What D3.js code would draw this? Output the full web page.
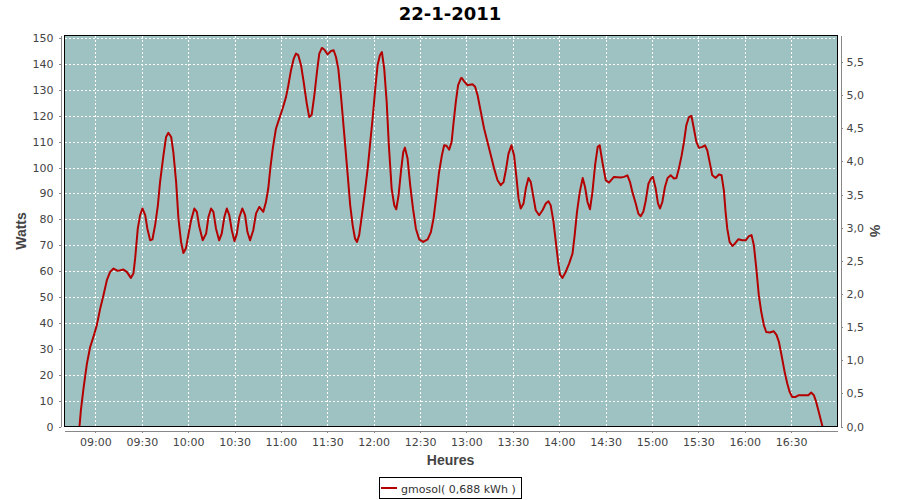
<!DOCTYPE html>
<html><head><meta charset="utf-8">
<script src="https://cdn.jsdelivr.net/npm/d3@7"></script>
<style>body{margin:0;background:#fff}svg{display:block}</style>
</head><body>
<svg id="chart" width="900" height="500"></svg>
<script>
// ---- data ----
const chartTitle = "22-1-2011";
const seriesName = "gmosol";
const energyLabel = "0,688 kWh";
const yLabelLeft = "Watts", yLabelRight = "%", xLabel = "Heures";
const timeRange = ["08:40", "17:00"];
const wattsRange = [0, 151];
const pctRange = [0, 5.9];
const wattsTicks = [0,10,20,30,40,50,60,70,80,90,100,110,120,130,140,150];
const pctTicks = [0,0.5,1,1.5,2,2.5,3,3.5,4,4.5,5,5.5];
const timeTicks = ["09:00","09:30","10:00","10:30","11:00","11:30","12:00","12:30","13:00","13:30","14:00","14:30","15:00","15:30","16:00","16:30"];
// time of each sample in minutes after midnight
const minutes = [529.7,530.6,532.3,534.5,536.6,538.7,540.9,543.1,545.2,547.4,549.5,551.7,554.5,558.1,560.3,562.9,564.6,565.7,567.4,568.9,570.4,572.2,573.6,575.4,576.9,578.6,580.4,581.8,584.0,585.7,587.2,589.0,590.4,592.2,593.7,595.4,596.9,598.5,600.1,601.9,604.0,605.6,607.2,609.4,611.6,613.1,614.8,616.3,618.0,620.0,621.7,623.4,625.0,626.6,628.2,629.9,631.4,633.1,635.0,636.8,638.3,640.0,642.1,643.9,646.0,648.6,
650.3,651.8,653.1,654.7,656.8,658.9,661.1,663.3,664.8,666.5,668.3,669.7,671.2,673.0,674.7,676.7,678.3,679.9,681.6,683.3,684.8,686.5,688.0,690.2,692.4,694.1,695.6,697.1,698.8,701.0,703.2,704.8,706.4,707.9,709.2,710.6,712.4,714.3,716.1,717.8,719.5,721.0,722.5,724.0,725.3,726.8,728.4,729.8,731.6,733.3,734.6,736.1,737.6,739.1,740.2,741.9,743.6,745.4,747.3,749.4,752.0,754.9,757.0,758.7,760.7,762.3,764.1,765.6,767.1,768.8,770.4,771.7,773.1,774.6,776.4,
777.0,778.5,780.7,783.9,785.6,787.2,789.3,791.4,793.6,795.8,797.9,800.1,802.2,804.0,805.5,807.2,809.1,810.8,812.4,813.7,815.1,816.9,818.4,820.1,821.6,823.3,824.8,827.0,829.2,831.3,833.0,834.5,836.3,837.8,839.3,840.5,842.1,844.2,846.4,848.6,850.0,851.5,853.3,855.2,856.7,858.3,859.9,861.5,863.2,864.9,866.2,867.9,870.1,872.2,875.4,879.8,881.9,884.1,885.8,887.3,889.5,891.2,892.7,894.4,895.9,897.7,899.4,900.6,
902.4,903.9,905.2,906.7,908.4,910.1,912.1,914.2,915.8,917.4,919.2,920.7,922.2,923.9,925.5,927.1,928.7,930.4,932.6,934.3,935.8,937.5,939.0,941.2,943.3,945.0,946.5,947.6,948.7,950.2,952.0,953.6,955.8,958.4,960.6,962.7,964.4,965.9,967.5,969.1,970.7,972.4,973.9,976.1,978.8,980.6,982.1,983.8,985.8,987.5,989.0,990.7,992.9,995.0,998.2,1001.1,1003.0,1004.7,1006.2,1007.9,1009.5,1010.3];
const watts = [0,6.3,14.7,24.3,30.7,34.6,39.1,45.6,50.7,56.5,59.7,61,60.1,60.6,59.7,57.4,59.1,64.9,76.4,81.6,84.2,81.6,76.4,71.9,72.3,77.7,85.4,94.4,104.7,111.8,113.4,111.8,106,94.4,80.3,71.3,67,68.7,73.9,79.7,84.2,82.9,77.1,71.9,74.5,80.9,84.2,82.9,76.4,71.9,74.5,80.9,84.2,81.6,75.8,71.6,74.2,80.9,84.2,81.6,75.2,71.9,75.8,82.3,84.8,82.9,
86.7,91.9,99.6,107.3,115.1,118.9,122.8,127.3,131.8,137.6,142.1,144,143.4,139.5,133.1,124.7,119.5,120.4,127.9,136.9,144,146.2,145.6,143.7,145,145.3,142.7,138.2,127.9,112.5,97,85.4,77.7,72.6,71.3,73.9,81.6,90.6,99.6,109.9,120.2,130.5,139.5,143.4,144.6,138.2,125.3,108.6,91.9,85.4,83.9,89.3,98.3,106,107.7,103.5,93.2,84.2,76.4,72.3,71.3,72.3,75.1,80.3,90,98.3,104.7,108.6,108.4,106.9,109.9,117.6,125.3,131.8,134.4,
134.6,133.3,131.8,132.2,131.2,127.9,121.5,115.1,109.9,104.7,99.6,95.1,93.2,94.4,99,105.4,108.6,104.7,95.8,88,84.2,86.1,91.9,96,94.4,88.6,83.5,81.6,83.5,86.1,87,85.4,79,71.3,63.6,58.7,57.4,59.7,62.9,66.8,73.9,82.9,90.6,96,92.5,86.7,83.9,90.6,100.9,108,108.6,102.2,95.1,94.2,96.4,96.2,96.4,97,94.4,90.6,86.1,82.2,81.2,82.9,87,93.8,95.8,96.4,
91.9,86.1,84.2,86.7,92.5,96,97,95.8,96,99.6,104.7,109.9,116.3,119.5,120,115.1,109.9,107.6,108,108.6,106.6,101.5,97,96,97.3,97,91.2,82.9,76.4,71.3,69.7,70.6,72.3,71.9,71.9,73.5,73.9,70,61,50.7,44.2,39.1,36.5,36.3,36.8,35.3,32.7,27.5,21.1,16.6,13.4,11.4,11.4,12.1,12.1,12.1,13.1,12.1,9.5,5.6,1.8,0];

// ---- helpers ----
const day = new Date(2011, 0, 22);
const fromMinutes = m => new Date(day.getTime() + m * 60000);
const fromHHMM = s => { const [h, mm] = s.split(":").map(Number); return fromMinutes(h * 60 + mm); };
const points = d3.zip(minutes, watts).map(([m, w]) => ({ t: fromMinutes(m), w }));

// ---- layout ----
const plot = { left: 64.5, top: 35.5, right: 837.5, bottom: 426.5 };
const svg = d3.select("#chart");
const x = d3.scaleTime().domain(timeRange.map(fromHHMM)).range([plot.left, plot.right]);
const y = d3.scaleLinear().domain(wattsRange).range([plot.bottom, plot.top]);
const yR = d3.scaleLinear().domain(pctRange).range([plot.bottom, plot.top]);

const fontTick = "DejaVu Sans, Verdana, sans-serif";
const fontLabel = "Liberation Sans, Arial, sans-serif";

// background
svg.append("rect").attr("x", plot.left).attr("y", plot.top)
  .attr("width", plot.right - plot.left).attr("height", plot.bottom - plot.top)
  .attr("fill", "#9EC2C2");

// gridlines
const grid = svg.append("g").attr("stroke", "#ffffff").attr("stroke-width", 1)
  .attr("stroke-dasharray", "2,2").attr("shape-rendering", "crispEdges");
grid.selectAll("line.v").data(timeTicks.map(fromHHMM)).join("line")
  .attr("x1", d => Math.round(x(d)) + 0.5).attr("x2", d => Math.round(x(d)) + 0.5)
  .attr("y1", plot.top).attr("y2", plot.bottom);
grid.selectAll("line.h").data(wattsTicks).join("line")
  .attr("x1", plot.left).attr("x2", plot.right)
  .attr("y1", d => Math.round(y(d)) + 0.5).attr("y2", d => Math.round(y(d)) + 0.5);

// series line
svg.append("clipPath").attr("id", "clip").append("rect")
  .attr("x", plot.left).attr("y", plot.top)
  .attr("width", plot.right - plot.left).attr("height", plot.bottom - plot.top);
svg.append("path").datum(points)
  .attr("clip-path", "url(#clip)")
  .attr("fill", "none").attr("stroke", "#B40000").attr("stroke-width", 2)
  .attr("stroke-linejoin", "round")
  .attr("d", d3.line().x(d => x(d.t)).y(d => y(d.w)));

// plot outline
svg.append("rect").attr("x", plot.left).attr("y", plot.top)
  .attr("width", plot.right - plot.left).attr("height", plot.bottom - plot.top)
  .attr("fill", "none").attr("stroke", "#000").attr("stroke-width", 1)
  .attr("shape-rendering", "crispEdges");

function styleAxis(g) {
  g.attr("shape-rendering", "crispEdges");
  g.select(".domain").attr("stroke", "#888");
  g.selectAll(".tick line").attr("stroke", "#888");
  g.selectAll(".tick text").attr("fill", "#444").attr("font-family", fontTick).attr("font-size", 11);
}

// left axis
svg.append("g").attr("transform", "translate(60.5,0)")
  .call(d3.axisLeft(y).tickValues(wattsTicks).tickSize(2).tickSizeOuter(0).tickPadding(5))
  .call(styleAxis);
// right axis
const pctFmt = d => d3.format(".1f")(d).replace(".", ",");
svg.append("g").attr("transform", "translate(840.5,0)")
  .call(d3.axisRight(yR).tickValues(pctTicks).tickFormat(pctFmt).tickSize(2).tickSizeOuter(0).tickPadding(4))
  .call(styleAxis);
// bottom axis
svg.append("g").attr("transform", "translate(0,430.5)")
  .call(d3.axisBottom(x).tickValues(timeTicks.map(fromHHMM)).tickFormat(d3.timeFormat("%H:%M"))
    .tickSize(2).tickSizeOuter(0).tickPadding(6))
  .call(styleAxis);

// title
svg.append("text").attr("x", 450).attr("y", 20).attr("text-anchor", "middle")
  .attr("font-family", "DejaVu Sans, sans-serif").attr("font-weight", "bold")
  .attr("font-size", 18).attr("fill", "#000").text(chartTitle);

// axis labels
const labelStyle = s => s.attr("font-family", fontLabel).attr("font-weight", "bold")
  .attr("font-size", 14).attr("fill", "#444").attr("text-anchor", "middle");
svg.append("text").attr("transform", "translate(25.5,231) rotate(-90)").call(labelStyle).text(yLabelLeft);
svg.append("text").attr("transform", "translate(870,231) rotate(90)").call(labelStyle).text(yLabelRight);
svg.append("text").attr("x", 450.5).attr("y", 465).call(labelStyle).text(xLabel);

// legend
const lg = svg.append("g");
lg.append("rect").attr("x", 379.5).attr("y", 477.5).attr("width", 142).attr("height", 21)
  .attr("fill", "#fff").attr("stroke", "#000").attr("shape-rendering", "crispEdges");
lg.append("line").attr("x1", 381).attr("x2", 397).attr("y1", 488).attr("y2", 488)
  .attr("stroke", "#B40000").attr("stroke-width", 2);
lg.append("text").attr("x", 401).attr("y", 493).attr("font-family", fontTick)
  .attr("font-size", 11).attr("fill", "#333").text(`${seriesName}( ${energyLabel} )`);
</script>
</body></html>
